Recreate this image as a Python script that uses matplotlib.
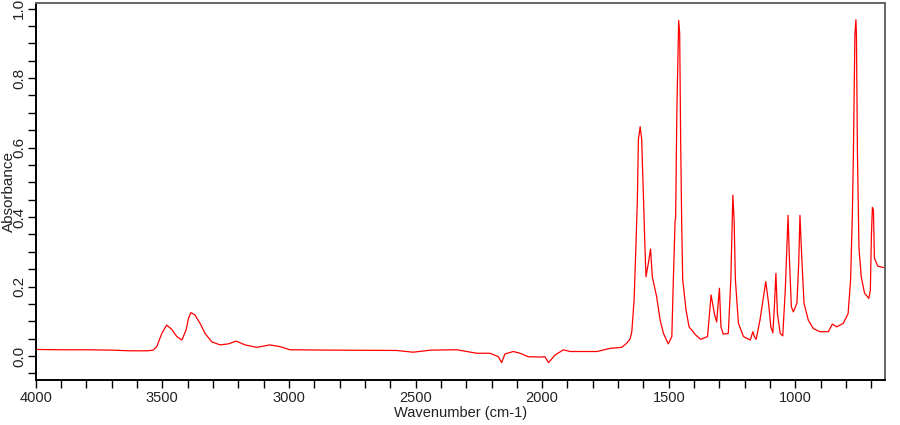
import matplotlib
matplotlib.use("Agg")
import matplotlib.pyplot as plt
from matplotlib.ticker import MultipleLocator, FormatStrFormatter

wavenumber = [
    4000, 3900, 3800, 3700, 3627, 3560, 3536, 3522, 3502, 3483, 3463, 3443, 3423,
    3406, 3397, 3387, 3371, 3351, 3331, 3305, 3272, 3239, 3209, 3173, 3127, 3075,
    3035, 2996, 2838, 2575, 2509, 2440, 2337, 2258, 2206, 2173, 2160, 2147, 2114,
    2087, 2055, 2008, 1989, 1975, 1949, 1916, 1890, 1784, 1732, 1686, 1666, 1653,
    1646, 1637, 1630, 1624, 1620, 1613, 1607, 1600, 1594, 1590, 1580, 1572, 1565,
    1548, 1534, 1521, 1502, 1488, 1482, 1475, 1473, 1468, 1461, 1457, 1453, 1449,
    1445, 1432, 1420, 1393, 1374, 1347, 1333, 1320, 1311, 1300, 1294, 1285, 1265,
    1255, 1247, 1242, 1237, 1225, 1205, 1178, 1168, 1162, 1155, 1140, 1126, 1117,
    1106, 1097, 1089, 1083, 1077, 1071, 1060, 1050, 1040, 1034, 1029, 1024, 1016,
    1008, 994, 987, 982, 975, 966, 949, 929, 903, 870, 854, 837, 811, 792, 782,
    775, 771, 765, 761, 759, 755, 749, 740, 727, 710, 704, 700, 696, 692, 688,
    675, 655, 645,
]
absorbance = [
    0.019, 0.018, 0.018, 0.017, 0.015, 0.015, 0.017, 0.027, 0.065, 0.089, 0.077, 0.056, 0.046,
    0.075, 0.108, 0.125, 0.118, 0.094, 0.065, 0.041, 0.032, 0.035, 0.043, 0.032, 0.025, 0.032,
    0.027, 0.018, 0.017, 0.016, 0.011, 0.017, 0.018, 0.008, 0.008, -0.002, -0.019, 0.006, 0.013,
    0.008, -0.002, -0.003, -0.002, -0.019, 0.003, 0.018, 0.013, 0.013, 0.022, 0.025, 0.037, 0.049,
    0.070, 0.161, 0.311, 0.452, 0.623, 0.660, 0.623, 0.452, 0.311, 0.228, 0.270, 0.308, 0.228,
    0.171, 0.103, 0.065, 0.035, 0.056, 0.220, 0.391, 0.396, 0.708, 0.966, 0.929, 0.613, 0.381,
    0.220, 0.133, 0.084, 0.060, 0.048, 0.056, 0.176, 0.122, 0.098, 0.195, 0.084, 0.063, 0.065,
    0.220, 0.463, 0.391, 0.220, 0.094, 0.056, 0.046, 0.070, 0.056, 0.048, 0.103, 0.171, 0.214,
    0.152, 0.084, 0.067, 0.142, 0.238, 0.122, 0.065, 0.058, 0.190, 0.311, 0.405, 0.286, 0.142,
    0.127, 0.152, 0.266, 0.405, 0.286, 0.152, 0.103, 0.079, 0.070, 0.070, 0.092, 0.084, 0.094, 0.122, 0.220,
    0.411, 0.583, 0.925, 0.968, 0.925, 0.583, 0.311, 0.228, 0.181, 0.166, 0.190, 0.343, 0.428, 0.421, 0.282,
    0.259, 0.255, 0.255,
]

x_label = "Wavenumber (cm-1)"
y_label = "Absorbance"

plt.rcParams['font.family'] = ['Liberation Sans', 'DejaVu Sans']

fig = plt.figure(figsize=(9, 4.25), dpi=100)
ax = fig.add_axes([35.7 / 900, 1 - 380 / 425, 849.6 / 900, 377.3 / 425])

ax.plot(wavenumber, absorbance, color='#ff0000', linewidth=0.9)

ax.set_xlim(4000, 645)
ax.set_ylim(-0.069, 1.017)

ax.xaxis.set_major_locator(MultipleLocator(500))
ax.xaxis.set_minor_locator(MultipleLocator(100))
ax.yaxis.set_major_locator(MultipleLocator(0.2))
ax.yaxis.set_minor_locator(MultipleLocator(0.05))
ax.yaxis.set_major_formatter(FormatStrFormatter('%.1f'))

ax.tick_params(which='both', direction='out', length=6, width=1, color='black')
ax.tick_params(axis='x', which='major', labelsize=10.5, pad=2, labelcolor='#222222')
ax.tick_params(axis='y', which='major', labelsize=11, pad=1, labelcolor='#222222',
               labelrotation=90)
for lab in ax.get_yticklabels():
    lab.set_va('center')

for side in ['left', 'bottom']:
    ax.spines[side].set_color('black')
    ax.spines[side].set_linewidth(1.4)
for side in ['top', 'right']:
    ax.spines[side].set_color('#646464')
    ax.spines[side].set_linewidth(1.4)

ax.set_xlabel(x_label, fontsize=10.5, color='#222222', va='center')
ax.xaxis.set_label_coords(0.5, -0.0875)
ax.set_ylabel(y_label, fontsize=11, color='#222222', va='center')
ax.yaxis.set_label_coords(-0.0314, 0.5)

fig.savefig('out.png', dpi=100)
